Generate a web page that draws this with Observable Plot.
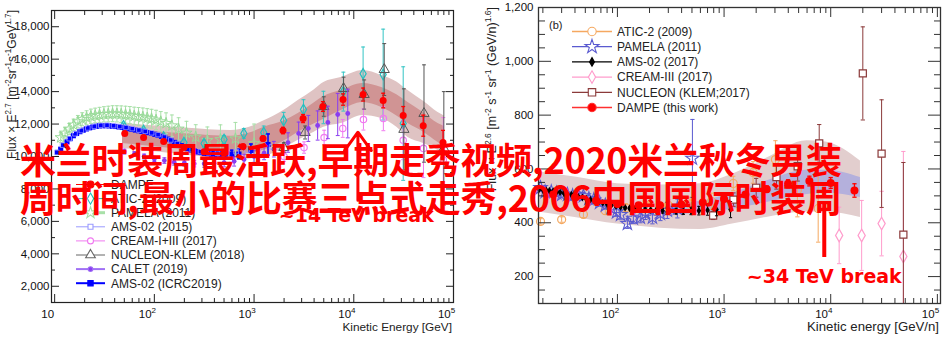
<!DOCTYPE html>
<html><head><meta charset="utf-8">
<script src="https://cdn.jsdelivr.net/npm/d3@7"></script>
<script src="https://cdn.jsdelivr.net/npm/@observablehq/plot@0.6"></script>
<style>
html,body{margin:0;padding:0;background:#fff;}
#wrap{position:relative;width:951px;height:352px;overflow:hidden;font-family:"Liberation Sans",Arial,sans-serif;}
#left,#right,#ovsvg{position:absolute;top:0;}
#left{left:0}
#right{left:475px}
#ovsvg{left:0;pointer-events:none}
#overlay{position:absolute;left:20px;top:139px;font-family:"Noto Sans CJK SC";font-weight:700;font-size:36px;line-height:38px;letter-spacing:-0.25px;color:#ff0000;white-space:nowrap;}
</style></head>
<body><div id="wrap"><div id="left"></div><div id="right"></div><svg id="ovsvg" width="951" height="352"></svg><div id="overlay"></div></div>
<script>
// ================= LEFT PANEL (proton) DATA =================
const pXTicks = [10, 100, 1000, 10000, 100000];
const pYTicks = [2000, 4000, 6000, 8000, 10000, 12000, 14000, 16000, 18000];

const pDampeE = [50.5, 78, 124, 198, 315, 500, 775, 1230, 1950, 3100, 4900, 7800, 12400, 19700, 31300, 49700, 78500];
const pDampeF = [11420, 11170, 10920, 10550, 10300, 10200, 10620, 11110, 11600, 12340, 13080, 13510, 13820, 13450, 12530, 11900, 10860];
const pDampeErr = [60, 60, 60, 70, 80, 100, 120, 150, 200, 250, 300, 350, 400, 450, 550, 650, 750];

const pAticE = [49, 78, 124, 198, 315, 500, 790, 1250, 1980, 3130, 4960, 7860, 12400, 19700, 31300];
const pAticF = [11900, 11600, 11200, 10860, 10800, 11050, 11420, 11480, 12220, 12900, 13020, 14000, 15100, 15050, 12030];
const pAticErr = [150, 150, 160, 180, 200, 250, 300, 400, 500, 600, 1000, 1200, 1650, 2800, 3500];

const pPamelaE = [11.5, 12.7, 14, 15.5, 17.1, 18.9, 20.9, 23.1, 25.5, 28.2, 31.2, 34.5, 38.1, 42.1, 46.5, 51.4, 56.8, 62.8, 69.4, 76.7, 84.8, 93.7, 104, 116, 131, 150, 175, 210, 260, 340, 460, 650, 1000];
const pPamelaF = [11170, 11450, 11700, 11950, 12150, 12300, 12400, 12480, 12530, 12570, 12600, 12620, 12640, 12630, 12610, 12580, 12550, 12500, 12470, 12430, 12380, 12330, 12250, 12150, 12050, 11900, 11700, 11450, 11200, 11000, 11050, 11100, 10800];
const pPamelaErr = [300, 320, 340, 360, 380, 400, 420, 440, 450, 460, 470, 480, 490, 500, 510, 520, 530, 540, 550, 560, 570, 580, 600, 620, 640, 660, 690, 720, 760, 820, 900, 1000, 1200];

const pAms15E = [10.5, 12, 14, 16, 18.5, 21.5, 25, 29, 33.5, 39, 45, 52, 60, 70, 81, 94, 109, 126, 146, 170, 200, 240, 290, 350, 430, 530, 660, 850, 1100, 1500];
const pAms15F = [10250, 10700, 11100, 11400, 11600, 11760, 11860, 11920, 11930, 11900, 11850, 11790, 11720, 11630, 11550, 11460, 11350, 11200, 11020, 10800, 10600, 10420, 10300, 10230, 10200, 10250, 10300, 10400, 10500, 10600];

const pAms19E = [10.7, 11.5, 12.3, 13.3, 14.3, 15.4, 16.6, 17.9, 19.3, 20.8, 22.4, 24.2, 26.1, 28.1, 30.3, 32.7, 35.2, 38, 41, 44.2, 47.7, 51.4, 55.4, 59.8, 64.5, 69.5, 75, 80.9, 87.2, 94, 101, 109, 118, 127, 137, 148, 160, 172, 186, 200, 216, 233, 251, 271, 292, 315, 340, 370, 410, 460, 520, 600, 705, 930, 1380];
const pAms19F = [10250, 10450, 10680, 10900, 11100, 11280, 11420, 11530, 11620, 11700, 11770, 11820, 11860, 11890, 11900, 11900, 11890, 11870, 11850, 11820, 11790, 11750, 11710, 11670, 11630, 11590, 11550, 11510, 11470, 11420, 11370, 11310, 11240, 11160, 11070, 10970, 10870, 10770, 10670, 10570, 10480, 10400, 10340, 10290, 10250, 10220, 10200, 10180, 10170, 10160, 10150, 10150, 10150, 10370, 10740];
const pAms19Err = [40, 40, 40, 40, 40, 40, 40, 40, 40, 40, 40, 40, 40, 40, 40, 40, 40, 40, 40, 40, 40, 40, 40, 40, 40, 40, 40, 40, 40, 40, 50, 50, 50, 50, 60, 60, 60, 70, 70, 80, 80, 90, 100, 110, 120, 130, 140, 150, 170, 190, 210, 240, 300, 400, 650];

const pCaletE = [50, 63, 79, 100, 126, 158, 200, 251, 316, 398, 501, 631, 794, 1000, 1260, 1580, 2190, 2800, 3500, 4340, 5500, 6900, 8700];
const pCaletF = [10300, 10150, 10000, 9850, 9750, 9650, 9600, 9560, 9560, 9580, 9620, 9700, 9820, 10000, 10200, 10450, 10860, 11420, 11730, 11910, 12100, 12590, 12650];
const pCaletErr = [150, 150, 150, 160, 170, 180, 190, 200, 220, 240, 260, 290, 320, 360, 400, 480, 600, 700, 800, 900, 1000, 1300, 1500];

const pCreamE = [2000, 3170, 5040, 7750, 12500, 19800, 31300, 50000, 79000];
const pCreamF = [10000, 10550, 11170, 11730, 12280, 12340, 11000, 10500, 9800];
const pCreamErr = [300, 350, 450, 550, 650, 750, 1200, 1800, 2600];

const pNucleonE = [1990, 3250, 5000, 7900, 12700, 20200, 31800, 50600, 80000];
const pNucleonF = [10550, 11480, 13080, 14190, 13820, 15360, 11670, 12650, 10500];
const pNucleonErr = [300, 400, 600, 700, 900, 1600, 2500, 3000, 3500];

const pBandE = [48, 120, 200, 350, 590, 900, 1260, 2000, 2770, 4000, 5000, 7470, 12300, 19000, 27000, 35000, 50000, 70000, 81000];
const pBandOuterLo = [10500, 10250, 10100, 9950, 9800, 9850, 10000, 10500, 11000, 11500, 11800, 12030, 12530, 12340, 11800, 11170, 10800, 10370, 10100];
const pBandOuterHi = [12050, 11850, 11750, 11650, 11600, 11800, 12200, 12850, 13450, 14100, 14560, 14870, 15300, 15000, 14600, 14070, 13400, 12710, 12500];
const pBandInnerLo = [10800, 10550, 10400, 10250, 10100, 10200, 10400, 10950, 11500, 12000, 12300, 12840, 13330, 13020, 12500, 12030, 11500, 10860, 10600];
const pBandInnerHi = [11700, 11500, 11400, 11300, 11250, 11450, 11800, 12200, 12650, 13300, 13700, 14070, 14500, 14250, 13800, 13330, 12700, 12030, 11850];

const pBreakE = [11000], pBreakFrom = [7300], pBreakTo = [11500];
const pBreakLabelE = [10600], pBreakLabelF = [6360], pBreakLabel = ["~14 TeV break"];

const pLegendNames = ["DAMPE", "ATIC-2 (2009)", "PAMELA (2011)", "AMS-02 (2015)", "CREAM-I+III (2017)", "NUCLEON-KLEM (2018)", "CALET (2019)", "AMS-02 (ICRC2019)"];

// ================= RIGHT PANEL (helium) DATA =================
const hXTicks = [100, 1000, 10000, 100000];
const hYTicks = [200, 400, 600, 800, 1000, 1200];

const hAticE = [19, 30, 48, 77, 120, 190, 300, 480, 760, 1220, 1870, 3030, 4870, 7630];
const hAticF = [405, 412, 431, 445, 455, 460, 465, 470, 480, 546, 587, 635, 522, 453];
const hAticErr = [10, 10, 12, 14, 15, 18, 20, 25, 30, 27, 40, 70, 100, 125];

const hPamelaE = [19, 21, 24, 27, 30, 34, 38, 43, 48, 54, 60, 68, 77, 87, 98, 107, 124, 141, 164, 183, 213, 253, 294, 365, 505];
const hPamelaF = [530, 515, 515, 510, 505, 505, 500, 505, 500, 490, 485, 475, 465, 455, 440, 430, 397, 416, 420, 434, 420, 434, 446, 453, 639];
const hPamelaErr = [8, 8, 8, 8, 9, 9, 9, 10, 10, 11, 12, 13, 14, 15, 16, 17, 18, 19, 20, 22, 24, 26, 30, 35, 145];

const hAmsE = [18.5, 20, 21.5, 23, 25, 27, 29, 31.5, 34, 37, 40, 43, 47, 51, 56, 61, 67, 73, 80, 88, 97, 107, 118, 130, 145, 162, 182, 205, 232, 265, 305, 355, 415, 490, 580, 700, 850, 1150];
const hAmsF = [525, 523, 521, 519, 517, 515, 513, 510, 507, 504, 500, 497, 494, 490, 486, 482, 478, 474, 470, 466, 462, 459, 456, 454, 452, 450, 448, 447, 446, 445, 444, 443, 443, 444, 445, 447, 449, 449];
const hAmsErr = [3, 3, 3, 3, 3, 3, 3, 3, 3, 3, 3, 3, 3, 3, 3, 4, 4, 4, 4, 4, 5, 5, 5, 5, 6, 6, 7, 7, 8, 9, 10, 11, 12, 14, 16, 19, 23, 30];

const hCreamE = [12000, 19500, 30000, 48000];
const hCreamF = [353, 353, 397, 275];
const hCreamErr = [105, 130, 120, 390];

const hNucleonE = [790, 1225, 2000, 3100, 4900, 7800, 20000, 30000, 48000];
const hNucleonF = [427, 486, 530, 570, 610, 695, 955, 657, 356];
const hNucleonErr = [15, 25, 35, 45, 55, 70, 173, 200, 268];

const hDampeE = [25, 40, 63, 100, 158, 251, 398, 631, 1000, 1585, 2512, 3981, 6310, 10000, 16700];
const hDampeF = [505, 495, 482, 470, 465, 465, 468, 475, 488, 505, 525, 545, 555, 548, 520];
const hDampeErr = [3, 3, 3, 3, 4, 4, 5, 6, 8, 10, 12, 15, 18, 20, 25];

const hBandE = [18.2, 40, 100, 250, 600, 1200, 2500, 6000, 9000, 19000];
const hBandOuterLo = [440, 420, 395, 380, 375, 395, 420, 440, 440, 420];
const hBandOuterHi = [590, 570, 545, 540, 545, 580, 640, 705, 700, 630];
const hInnerE = [300, 600, 1200, 2500, 6000, 9000, 19000];
const hInnerLo = [430, 435, 450, 475, 505, 510, 494];
const hInnerHi = [470, 480, 510, 555, 595, 595, 568];

const hBreakE = [8700], hBreakFrom = [271], hBreakTo = [472];
const hBreakLabelE = [8700], hBreakLabelF = [197], hBreakLabel = ["~34 TeV break"];

const hLegendNames = ["ATIC-2 (2009)", "PAMELA (2011)", "AMS-02 (2017)", "CREAM-III (2017)", "NUCLEON (KLEM;2017)", "DAMPE (this work)"];

const overlayLines = ["米兰时装周最活跃,早期走秀视频,2020米兰秋冬男装", "周时间,最小的比赛三点式走秀,2006中国国际时装周"];

// ================= HELPERS =================
const rows = (E, F, Err) => E.map((e, i) => ({E: e, F: F[i], err: Err ? Err[i] : 0}));
const bandRows = (E, lo, hi) => E.map((e, i) => ({E: e, lo: lo[i], hi: hi[i]}));
const capSym = {draw(ctx, size) { const w = Math.sqrt(size) / 2; ctx.moveTo(-w, 0); ctx.lineTo(w, 0); }};
function errBars(data, color, capR, sw = 1) {
  return [
    Plot.ruleX(data, {x: "E", y1: d => d.F - d.err, y2: d => d.F + d.err, stroke: color, strokeWidth: sw, clip: true}),
    Plot.dot(data, {x: "E", y: d => d.F + d.err, symbol: capSym, r: capR, fill: "none", stroke: color, strokeWidth: sw, clip: true}),
    Plot.dot(data, {x: "E", y: d => d.F - d.err, symbol: capSym, r: capR, fill: "none", stroke: color, strokeWidth: sw, clip: true})
  ];
}
function minorLog(lo, hi) {
  const out = [];
  for (let d = Math.floor(Math.log10(lo)); d <= Math.ceil(Math.log10(hi)); d++)
    for (let k = 2; k <= 9; k++) { const v = k * Math.pow(10, d); if (v >= lo && v <= hi) out.push(v); }
  return out;
}
function tickAxes(xMaj, xMin, yMaj, yMin, lenMajX, lenMinX, lenMajY, lenMinY, color) {
  const blank = () => "";
  const o = {tickFormat: blank, label: null, stroke: color};
  return [
    Plot.axisX({...o, anchor: "bottom", ticks: xMaj, tickSize: -lenMajX}),
    Plot.axisX({...o, anchor: "bottom", ticks: xMin, tickSize: -lenMinX}),
    Plot.axisX({...o, anchor: "top", ticks: xMaj, tickSize: -lenMajX}),
    Plot.axisX({...o, anchor: "top", ticks: xMin, tickSize: -lenMinX}),
    Plot.axisY({...o, anchor: "left", ticks: yMaj, tickSize: -lenMajY}),
    Plot.axisY({...o, anchor: "left", ticks: yMin, tickSize: -lenMinY}),
    Plot.axisY({...o, anchor: "right", ticks: yMaj, tickSize: -lenMajY}),
    Plot.axisY({...o, anchor: "right", ticks: yMin, tickSize: -lenMinY})
  ];
}
function decadeLabels(svgEl, chart, ticks, y, fs) {
  const sx = chart.scale("x");
  const svg = d3.select(svgEl);
  ticks.forEach(t => {
    const e = Math.round(Math.log10(t));
    const x = sx.apply(t);
    const tx = svg.append("text").attr("x", x - fs * 0.556).attr("y", y)
      .attr("font-size", fs).attr("fill", "#111").attr("font-family", "Liberation Sans, Arial, sans-serif");
    tx.append("tspan").text("10");
    if (e > 1) tx.append("tspan").attr("dy", -fs * 0.42).attr("font-size", fs * 0.7).text(e);
  });
}
function richText(sel, parts, fs) {
  let sup = false;
  parts.forEach(([s, isSup]) => {
    const t = sel.append("tspan").text(s);
    if (isSup && !sup) t.attr("dy", -fs * 0.4).attr("font-size", fs * 0.68);
    else if (isSup) t.attr("font-size", fs * 0.68);
    else if (!isSup && sup) t.attr("dy", fs * 0.4);
    sup = isSup;
  });
}
const styleBase = {fontFamily: "Liberation Sans, Arial, sans-serif", fontSize: "11.5px", color: "#111", background: "transparent", overflow: "visible"};

// ================= LEFT PLOT =================
const pMinorY = d3.range(1000, 19001, 2000);
const left = Plot.plot({
  width: 475, height: 340, marginLeft: 51, marginRight: 22, marginTop: 10, marginBottom: 38,
  x: {type: "log", domain: [9.3, 1e5], axis: null},
  y: {domain: [1000, 19000]},
  style: styleBase,
  marks: [
    Plot.areaY(bandRows(pBandE, pBandOuterLo, pBandOuterHi), {x: "E", y1: "lo", y2: "hi", fill: "#dfc3c3", curve: "monotone-x"}),
    Plot.areaY(bandRows(pBandE, pBandInnerLo, pBandInnerHi), {x: "E", y1: "lo", y2: "hi", fill: "#d09494", curve: "monotone-x"}),
    ...errBars(rows(pPamelaE, pPamelaF, pPamelaErr), "#a8e0a8", 2.2),
    Plot.dot(rows(pPamelaE, pPamelaF), {x: "E", y: "F", symbol: "star", r: 3.5, fill: "none", stroke: "#98da98", strokeWidth: 1}),
    ...errBars(rows(pAticE, pAticF, pAticErr), "#33c4c4", 2.2),
    Plot.dot(rows(pAticE, pAticF), {x: "E", y: "F", symbol: "diamond", r: 3.2, fill: "none", stroke: "#22bfbf", strokeWidth: 1.2}),
    ...errBars(rows(pCreamE, pCreamF, pCreamErr), "#f07af0", 2.2),
    Plot.dot(rows(pCreamE, pCreamF), {x: "E", y: "F", symbol: "circle", r: 3.2, fill: "none", stroke: "#f07af0", strokeWidth: 1.2}),
    ...errBars(rows(pNucleonE, pNucleonF, pNucleonErr), "#555", 2.2),
    Plot.dot(rows(pNucleonE, pNucleonF), {x: "E", y: "F", symbol: "triangle", r: 3.8, fill: "none", stroke: "#555", strokeWidth: 1}),
    ...errBars(rows(pCaletE, pCaletF, pCaletErr), "#8a3cf0", 2.2),
    Plot.dot(rows(pCaletE, pCaletF), {x: "E", y: "F", symbol: "circle", r: 2.4, fill: "#8a3cf0"}),
    ...errBars(rows(pAms19E, pAms19F, pAms19Err), "#0000ff", 2.2, 1.5),
    Plot.dot(rows(pAms19E, pAms19F), {x: "E", y: "F", symbol: "square", r: 2.9, fill: "#0000ff"}),
    Plot.dot(rows(pAms15E, pAms15F), {x: "E", y: "F", symbol: "square", r: 2.6, fill: "none", stroke: "#9a9aff", strokeWidth: 0.8}),
    ...errBars(rows(pDampeE, pDampeF, pDampeErr), "#ff0000", 2.2, 1.3),
    Plot.dot(rows(pDampeE, pDampeF), {x: "E", y: "F", symbol: "circle", r: 3.5, fill: "#ff0000"}),
    ...tickAxes(pXTicks, minorLog(9.3, 1e5), pYTicks, pMinorY, 8, 4, 8, 4, "#222"),
    Plot.axisY({ticks: pYTicks, tickSize: 0, tickPadding: 2, label: null, fontSize: 11.5, fill: "#111"}),
    Plot.frame({stroke: "#222", strokeWidth: 1.2}),
    Plot.arrow(pBreakE.map((e, i) => ({E: e, a: pBreakFrom[i], b: pBreakTo[i]})), {x1: "E", x2: "E", y1: "a", y2: "b", stroke: "#ff0000", strokeWidth: 3, headLength: 16, headAngle: 72}),
    Plot.text(pBreakLabel.map((t, i) => ({t, E: pBreakLabelE[i], F: pBreakLabelF[i]})), {x: "E", y: "F", text: "t", fill: "#ff0000", fontSize: 19, fontWeight: "bold", fontFamily: "DejaVu Sans"})
  ]
});
document.getElementById("left").appendChild(left);
decadeLabels(left, left, pXTicks, 318, 11.5);

// ================= RIGHT PLOT =================
const hMinorY = d3.range(150, 1200, 50).filter(v => v % 200 !== 0);
const right = Plot.plot({
  width: 476, height: 340, marginLeft: 63, marginRight: 11, marginTop: 7, marginBottom: 37,
  x: {type: "log", domain: [18.2, 1.07e5], axis: null},
  y: {domain: [100, 1200]},
  style: styleBase,
  marks: [
    Plot.areaY(bandRows(hBandE, hBandOuterLo, hBandOuterHi), {x: "E", y1: "lo", y2: "hi", fill: "#e2cece", curve: "monotone-x"}),
    Plot.areaY(bandRows(hInnerE, hInnerLo, hInnerHi), {x: "E", y1: "lo", y2: "hi", fill: "#b4b0dc", curve: "monotone-x"}),
    ...errBars(rows(hAticE, hAticF, hAticErr), "#f5a860", 2.4),
    Plot.dot(rows(hAticE, hAticF), {x: "E", y: "F", symbol: "circle", r: 4, fill: "none", stroke: "#f5a860", strokeWidth: 1.2}),
    ...errBars(rows(hPamelaE, hPamelaF, hPamelaErr), "#5a5ad0", 2.4),
    Plot.dot(rows(hPamelaE, hPamelaF), {x: "E", y: "F", symbol: "star", r: 4.2, fill: "none", stroke: "#5a5ad0", strokeWidth: 1.1}),
    ...errBars(rows(hCreamE, hCreamF, hCreamErr), "#ff9ccc", 2.4),
    Plot.dot(rows(hCreamE, hCreamF), {x: "E", y: "F", symbol: "diamond", r: 3.8, fill: "#fff", stroke: "#ff9ccc", strokeWidth: 1.2}),
    ...errBars(rows(hNucleonE, hNucleonF, hNucleonErr), "#8b3a3a", 2.4),
    Plot.dot(rows(hNucleonE, hNucleonF), {x: "E", y: "F", symbol: "square", r: 4, fill: "#fff", stroke: "#8b3a3a", strokeWidth: 1.2}),
    ...errBars(rows(hAmsE, hAmsF, hAmsErr), "#000", 1.8),
    Plot.dot(rows(hAmsE, hAmsF), {x: "E", y: "F", symbol: "diamond", r: 2.4, fill: "#000"}),
    ...errBars(rows(hDampeE, hDampeF, hDampeErr), "#ff0000", 2.4, 1.3),
    Plot.dot(rows(hDampeE, hDampeF), {x: "E", y: "F", symbol: "circle", r: 4, fill: "#ff0000"}),
    ...tickAxes(hXTicks, minorLog(18.2, 1.07e5), hYTicks, hMinorY, 9, 5, 13, 7, "#333"),
    Plot.axisY({ticks: hYTicks, tickSize: 0, tickPadding: 5, label: null, fontSize: 11.5, fill: "#111"}),
    Plot.frame({stroke: "#333", strokeWidth: 1.3}),
    Plot.ruleX(hBreakE.map((e, i) => ({E: e, a: hBreakFrom[i], b: hBreakTo[i]})), {x: "E", y1: "a", y2: "b", stroke: "#ff0000", strokeWidth: 4}),
    Plot.text(hBreakLabel.map((t, i) => ({t, E: hBreakLabelE[i], F: hBreakLabelF[i]})), {x: "E", y: "F", text: "t", fill: "#ff0000", fontSize: 19, fontWeight: "bold", fontFamily: "DejaVu Sans"})
  ]
});
document.getElementById("right").appendChild(right);
decadeLabels(right, right, hXTicks, 318, 11.5);

// ================= TITLES & LEGENDS (overlay svg) =================
const ov = d3.select("#ovsvg").attr("font-family", "Liberation Sans, Arial, sans-serif");
ov.append("text").attr("x", 452).attr("y", 331).attr("text-anchor", "end").attr("font-size", 11.8).attr("fill", "#222").text("Kinetic Energy [GeV]");
ov.append("text").attr("x", 939).attr("y", 331).attr("text-anchor", "end").attr("font-size", 13.2).attr("fill", "#222").text("Kinetic energy [GeV/n]");
const ly = ov.append("text").attr("transform", "translate(16,10) rotate(-90)").attr("text-anchor", "end").attr("font-size", 12).attr("fill", "#222");
richText(ly, [["Flux \u00d7 E", false], ["2.7", true], [" [m", false], ["-2", true], ["sr", false], ["-1", true], ["s", false], ["-1", true], ["GeV", false], ["1.7", true], ["]", false]], 12);
const ry = ov.append("text").attr("transform", "translate(496,7) rotate(-90)").attr("text-anchor", "end").attr("font-size", 12.5).attr("fill", "#222");
richText(ry, [["Flux \u00d7 E", false], ["2.6", true], [" [m", false], ["-2", true], [" s", false], ["-1", true], [" sr", false], ["-1", true], [" (GeV/n)", false], ["1.6", true], ["]", false]], 12.5);

function legend(names, specs, x0, x1, xs, xt, y0, dy, fs) {
  names.forEach((n, i) => {
    const s = specs[i], y = y0 + i * dy;
    ov.append("line").attr("x1", x0).attr("x2", x1).attr("y1", y).attr("y2", y).attr("stroke", s.c).attr("stroke-width", s.lw);
    ov.append("path").attr("d", d3.symbol(s.sym, Math.PI * s.r * s.r)()).attr("transform", `translate(${xs},${y})`)
      .attr("fill", s.fill).attr("stroke", s.c).attr("stroke-width", 1.1);
    ov.append("text").attr("x", xt).attr("y", y).attr("dy", "0.36em").attr("font-size", fs).attr("fill", "#222").text(n);
  });
}
legend(pLegendNames, [
  {c: "#ff0000", sym: d3.symbolCircle, r: 3.5, fill: "#ff0000", lw: 1},
  {c: "#22bfbf", sym: d3.symbolDiamond, r: 3.4, fill: "#fff", lw: 1},
  {c: "#a8e0a8", sym: d3.symbolStar, r: 3.6, fill: "#fff", lw: 3},
  {c: "#9a9aff", sym: d3.symbolSquare, r: 2.8, fill: "#fff", lw: 1},
  {c: "#f07af0", sym: d3.symbolCircle, r: 3.0, fill: "#fff", lw: 1},
  {c: "#666", sym: d3.symbolTriangle, r: 3.6, fill: "#fff", lw: 1},
  {c: "#a070f5", sym: d3.symbolCircle, r: 2.4, fill: "#8a3cf0", lw: 2},
  {c: "#0000ff", sym: d3.symbolSquare, r: 3.0, fill: "#0000ff", lw: 2}
], 76, 105, 90.5, 111, 184.5, 14.1, 12);
ov.append("text").attr("x", 549).attr("y", 25).attr("dy", "0.36em").attr("font-size", 11).attr("fill", "#222").text("(b)");
legend(hLegendNames, [
  {c: "#f5a860", sym: d3.symbolCircle, r: 4.2, fill: "#fff", lw: 1.3},
  {c: "#5a5ad0", sym: d3.symbolStar, r: 4.4, fill: "#fff", lw: 1.3},
  {c: "#000", sym: d3.symbolDiamond, r: 2.6, fill: "#000", lw: 1.3},
  {c: "#ff9ccc", sym: d3.symbolDiamond, r: 3.8, fill: "#fff", lw: 1.3},
  {c: "#8b3a3a", sym: d3.symbolSquare, r: 4.2, fill: "#fff", lw: 1.3},
  {c: "#ff3030", sym: d3.symbolCircle, r: 4.2, fill: "#ff0000", lw: 1.3}
], 572, 612, 592, 617, 31.5, 15.2, 12);

document.getElementById("overlay").innerHTML = overlayLines.map(s => `<div>${s}</div>`).join("");
</script></body></html>
